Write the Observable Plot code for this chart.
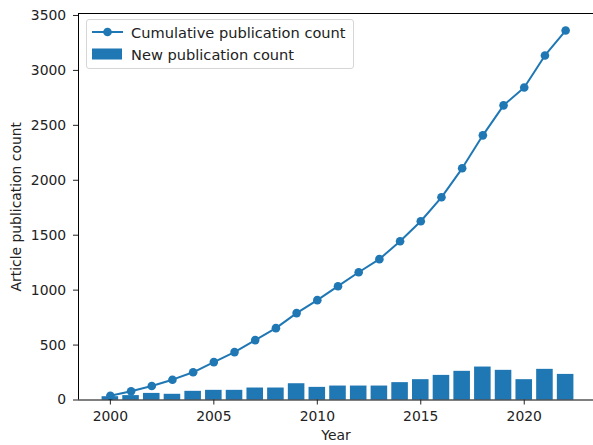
<!DOCTYPE html>
<html>
<head>
<meta charset="utf-8">
<script src="https://cdn.jsdelivr.net/npm/d3@7"></script>
<script src="https://cdn.jsdelivr.net/npm/@observablehq/plot@0.6"></script>
<style>
  html, body { margin: 0; padding: 0; background: #fff; overflow: hidden; }
  #wrap { position: relative; width: 593px; height: 445px; overflow: hidden; font-family: "DejaVu Sans", sans-serif; }
  .legend { position: absolute; left: 86px; top: 19px; width: 266px; height: 48px; border: 1px solid #d6d6d6; border-radius: 3px; background: rgba(255,255,255,0.85); font-size: 14.6px; color: #222; }
  .legend .row { position: absolute; left: 0; height: 20px; display: flex; align-items: center; }
  .legend .row span { position: absolute; left: 44px; white-space: nowrap; }
</style>
</head>
<body>
<div id="wrap"></div>
<script>
const years = [2000,2001,2002,2003,2004,2005,2006,2007,2008,2009,2010,2011,2012,2013,2014,2015,2016,2017,2018,2019,2020,2021,2022];
const newCounts = [30,40,60,52,79,88,88,109,109,148,115,127,127,127,158,185,224,261,300,270,185,279,233];
const cumulative = [39,79,127,185,252,345,436,545,654,791,909,1036,1163,1282,1445,1627,1845,2109,2409,2682,2845,3136,3363];
const xTicks = [2000,2005,2010,2015,2020];
const yTicks = [0,500,1000,1500,2000,2500,3000,3500];
const seriesLabels = ["Cumulative publication count", "New publication count"];
const color = "#1f77b4";

const data = years.map((y, i) => ({year: y, newCount: newCounts[i], cum: cumulative[i]}));
const xMin = 1998.46, xMax = 2023.54, yMax = 3518;

const chart = Plot.plot({
  width: 593,
  height: 445,
  marginLeft: 78,
  marginTop: 13,
  marginBottom: 45.5,
  marginRight: 0,
  style: {fontFamily: "DejaVu Sans, sans-serif", fontSize: "13.9px", color: "#222", background: "transparent"},
  x: {domain: [xMin, xMax], range: [78, 597]},
  y: {domain: [0, yMax]},
  marks: [
    Plot.rectY(data, {x1: d => d.year - 0.4, x2: d => d.year + 0.4, y: "newCount", fill: color}),
    Plot.line(data, {x: "year", y: "cum", stroke: color, strokeWidth: 2}),
    Plot.dot(data, {x: "year", y: "cum", fill: color, r: 4.3, stroke: "none"}),
    Plot.ruleX([xMin], {stroke: "#000", strokeWidth: 1}),
    Plot.ruleY([0], {stroke: "#000", strokeWidth: 1}),
    Plot.ruleY([yMax], {stroke: "#000", strokeWidth: 1}),
    Plot.axisX({ticks: xTicks, tickFormat: d => String(d), tickSize: 5, tickPadding: 6.5, label: "Year", labelAnchor: "center", labelArrow: "none", labelOffset: 40, fontSize: 13.9}),
    Plot.axisY({ticks: yTicks, tickFormat: d => String(d), tickSize: 5, tickPadding: 7.3, label: "Article publication count", labelAnchor: "center", labelArrow: "none", labelOffset: 67, fontSize: 13.9})
  ]
});

const wrap = document.getElementById("wrap");
wrap.appendChild(chart);

const legend = document.createElement("div");
legend.className = "legend";
legend.innerHTML = `
  <div class="row" style="top:2px;width:100%">
    <svg width="40" height="20" style="position:absolute;left:3px"><line x1="2" x2="33" y1="10" y2="10" stroke="${color}" stroke-width="2"/><circle cx="17.5" cy="10" r="4.3" fill="${color}"/></svg>
    <span>${seriesLabels[0]}</span>
  </div>
  <div class="row" style="top:24px;width:100%">
    <svg width="40" height="20" style="position:absolute;left:3px"><rect x="2" y="4.5" width="30" height="11" fill="${color}"/></svg>
    <span>${seriesLabels[1]}</span>
  </div>`;
wrap.appendChild(legend);
</script>
</body>
</html>
